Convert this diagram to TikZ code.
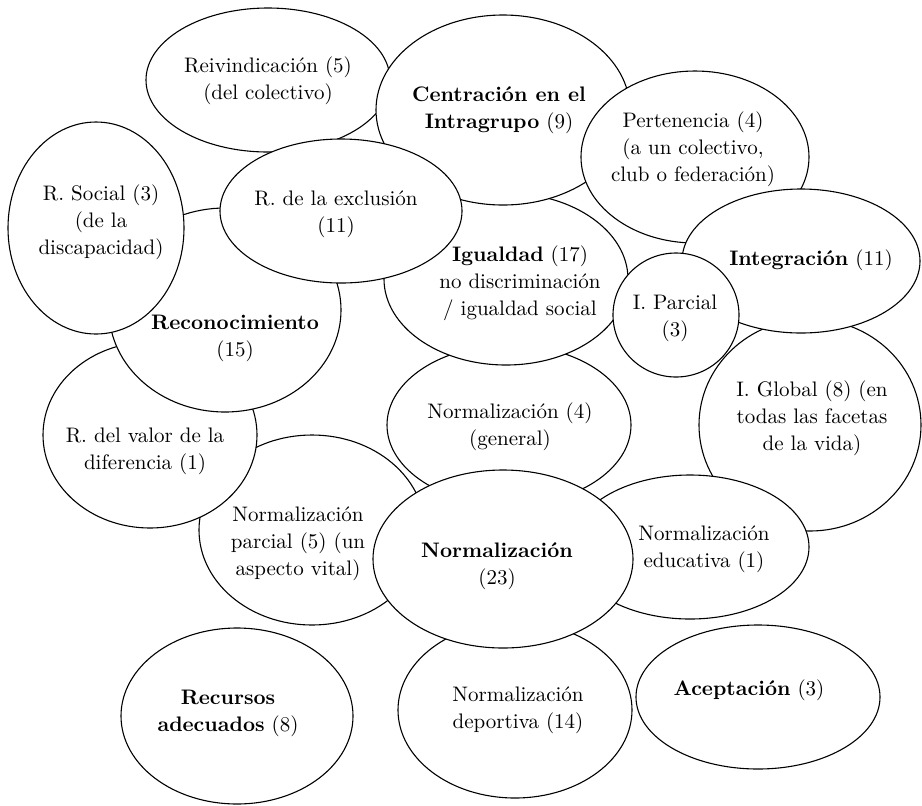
\documentclass[tikz,border=0pt]{standalone}
\usetikzlibrary{shapes.geometric}

\begin{document}
\begin{tikzpicture}[x=0.5pt,y=-0.5pt]
	\tikzstyle{bubble} = [ellipse, draw, fill=white, line width=0.55pt, inner sep=0pt, outer sep=0pt]
	\tikzstyle{txt} = [align=center, inner sep=0pt, font=\fontsize{10.5}{13.5}\selectfont]
	\useasboundingbox (0,0) rectangle (922,805);
	% ellipses, lowest first
	\node[bubble, minimum width=113pt, minimum height=95pt](npar) at (312,530){};
	\node[bubble, minimum width=122pt, minimum height=80pt](norm) at (509,425){};
	\node[bubble, minimum width=107pt, minimum height=93pt](rval) at (150,435){};
	\node[bubble, minimum width=116pt, minimum height=102pt](reco) at (225,310){};
	\node[bubble, minimum width=88pt, minimum height=106pt](rsoc) at (96,228){};
	\node[bubble, minimum width=122pt, minimum height=72pt](reiv) at (268,80){};
	\node[bubble, minimum width=122pt, minimum height=86pt](igual) at (506,279){};
	\node[bubble, minimum width=127pt, minimum height=95pt](centr) at (503,110){};
	\node[bubble, minimum width=121pt, minimum height=72pt](rexc) at (341,211){};
	\node[bubble, minimum width=114pt, minimum height=86pt](pert) at (695,157){};
	\node[bubble, minimum width=111pt, minimum height=106pt](iglob) at (810,425){};
	\node[bubble, minimum width=119pt, minimum height=72pt](integ) at (801,261){};
	\node[bubble, minimum width=63pt, minimum height=62pt](ipar) at (676,315){};
	\node[bubble, minimum width=119pt, minimum height=72pt](nedu) at (690,547){};
	\node[bubble, minimum width=117pt, minimum height=88pt](ndep) at (515,710){};
	\node[bubble, minimum width=130pt, minimum height=89pt](nbig) at (503,559){};
	\node[bubble, minimum width=116pt, minimum height=88pt](recu) at (237,716){};
	\node[bubble, minimum width=122pt, minimum height=72pt](acep) at (758,697){};
	% texts
	\node[txt](reivt) at (268,81){Reivindicación (5)\\(del colectivo)};
	\node[txt](centrt) at (499,110){\textbf{Centración en el}\\\textbf{Intragrupo} (9)};
	\node[txt](pertt) at (693,149){Pertenencia (4)\\(a un colectivo,\\club o federación)};
	\node[txt](rsoct) at (101,222){R. Social (3)\\(de la\\discapacidad)};
	\node[txt](rexct) at (336,214){R. de la exclusión\\(11)};
	\node[txt](recot) at (235,338){\textbf{Reconocimiento}\\(15)};
	\node[txt](igualt) at (520,283){\textbf{Igualdad} (17)\\no discriminación\\/ igualdad social};
	\node[txt](ipart) at (675,318){I. Parcial\\(3)};
	\node[txt](integt) at (811,260){\textbf{Integración} (11)};
	\node[txt](iglobt) at (812,418){I. Global (8) (en\\todas las facetas\\de la vida)};
	\node[txt](normt) at (510,427){Normalización (4)\\(general)};
	\node[txt](rvalt) at (145,451){R. del valor de la\\diferencia (1)};
	\node[txt](npart) at (298,544){Normalización\\parcial (5) (un\\aspecto vital)};
	\node[txt](nbigt) at (497,566){\textbf{Normalización}\\(23)};
	\node[txt](nedut) at (704,549){Normalización\\educativa (1)};
	\node[txt](ndept) at (518,710){Normalización\\deportiva (14)};
	\node[txt](recut) at (228,713){\textbf{Recursos}\\\textbf{adecuados} (8)};
	\node[txt](acept) at (749,690){\textbf{Aceptación} (3)};
\end{tikzpicture}
\end{document}
